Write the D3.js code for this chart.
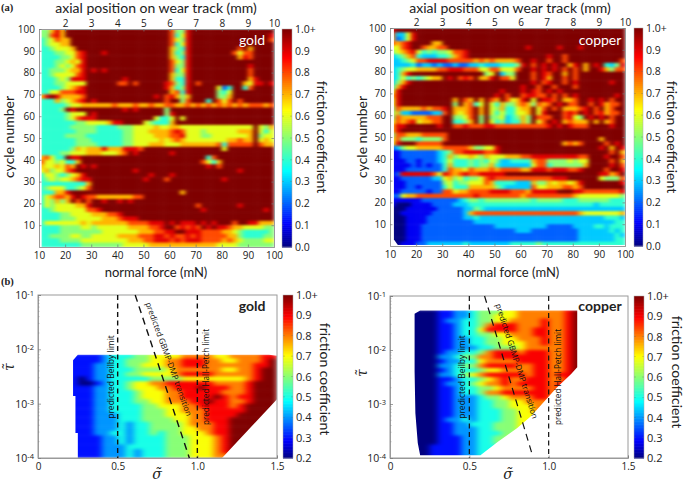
<!DOCTYPE html>
<html><head><meta charset="utf-8">
<script src="https://cdn.jsdelivr.net/npm/d3@7"></script>
<style>
html,body{margin:0;padding:0;background:#fff}
svg{display:block}
text{font-family:"Open Sans",sans-serif;fill:#222}
text.lab{font-family:Lato,"Open Sans",sans-serif}
</style></head><body>
<svg id="c" width="685" height="482"></svg>
<script>
// friction grids: each row top to bottom, digit = coefficient x 10, X = 1.0+
const goldWear = [
"55797 XXXXX XXXXX XXXXX XXXXX 8559X XXXXX XXXXX XXXXX",
"55897 XXXXX XXXXX XXXXX XXXXX 8469X XXXXX XXXXX XXXX9",
"45687 7XXXX XXXXX XXXXX XXXXX 8659X XXXXX XXXXX XXXX8",
"45667 7XXXX XXXXX XXXXX XXXXX 8469X XXXXX XXXXX XXXXX",
"44566 67XXX XXXXX XXXXX XXXXX 7549X XXXXX XXX8X 7XXXX",
"44455 6689X XX9XX XXXXX XXXXX 7459X XXXXX XX868 8XXXX",
"44445 5689X XXXXX XXXXX XXXXX 7549X XXXXX XXX79 8XXXX",
"44455 6769X XXXXX XXXXX XXXXX 8659X XXXXX XXXXX XXXXX",
"44456 5689X XXXXX XXXXX XXXXX 8559X XXXXX XXXXX 9XXXX",
"44555 6779X 9X9XX XXXXX XXXXX 8469X XXXXX XXXXX 8XXXX",
"44566 6689X XXXXX XXXXX XXXXX 7559X XXXXX XXXXX 8XXXX",
"44456 5999X XXXXX X9XXX XXXXX 7449X XXXXX XXXXX 79XXX",
"44455 6666X XXXXX 88X8X XXXX9 8549X 8XXXX XXXX7 699X9",
"44445 6789X XXXXX XXXXX XXXX9 7459X XXXX6 24XX4 8XXXX",
"44668 8899X XXXXX XXXXX XXXXX 7849X XXXX5 46XXX XXXXX",
"79X97 7778X XXXXX XXXXX XX9X8 9757X XXXX5 57XXX XXXXX",
"44475 6789X 9XXXX XXXXX XXXX8 XX58X XX4X8 68X8X XXXXX",
"44444 56677 77778 77787 78778 87787 87878 78787 88878",
"44445 X9XXX XXXXX X9X9X XXXX5 XXXXX XXXXX XXXXX XXXXX",
"44444 5666X 9XXXX XXXXX XXXX5 9XXXX XXXXX XXXXX XXXXX",
"44444 56899 9XXXX XXXXX XX644 6X6XX XXXXX XXXXX XXXXX",
"44444 44556 66679 9XXXX 65444 7XXXX XXXXX XXXXX XXXXX",
"44444 45555 54444 55566 66766 77666 66666 66666 6X657",
"44444 44555 54444 45566 67777 89866 65666 66677 7X646",
"44444 55554 44444 45566 66777 88966 65566 66666 7X566",
"44444 44555 44444 45566 66676 78766 66666 67787 7X676",
"44444 44555 54444 45566 67776 66777 77778 48888 8X877",
"44444 45767 77977 79998 XXXXX XXXXX XXXXX 6XXXX XXXXX",
"44445 56667 77666 78X9X XXXXX 9XXXX XXXXX XXXXX XXXXX",
"78644 X99XX XXXXX XXXXX XXXXX XXXXX XX48X XXXXX XXXXX",
"86656 447XX XXXXX XXXXX XXXXX XXXXX X8647 XXXXX XXXXX",
"76676 87X9X 9XXXX XXXXX XXXXX XXXXX XX9X8 XXXXX XXXXX",
"67566 89XXX XXXXX XXX9X XXXXX XXXXX XXXXX XXX9X XXXXX",
"46654 5679X XXXXX XXXXX X9XXX 9XXXX XXXXX XXXXX XXXXX",
"45656 67899 XXXXX XXXXX 9XXX8 XXXXX XXXXX 9XXXX XXXXX",
"44444 44447 XXXXX XXXXX XXXXX XXXXX XXXXX XXXXX XXXXX",
"45666 44568 XXXXX XXXXX XXXXX XXXXX XXXXX XXXXX XXXXX",
"44477 9XXXX XXXXX XXXXX XXXXX XX7XX XXXXX XXXXX XXXXX",
"46788 79X98 87777 77788 XXXXX XXXXX XXXXX XXXXX XXXXX",
"46575 7X8X8 XX9XX 9X9XX XXXXX XXXXX XXXXX XXXXX XXXXX",
"46566 66779 XXXXX XXXXX XXXXX XXXXX 8XXXX XXX9X XXXXX",
"44566 66668 89XXX XXXXX XXXXX XXXXX X9XXX XXXXX XXX9X",
"44445 56666 77788 9XXXX XXXXX XXXXX XXXXX XXXXX XXXXX",
"44445 55666 66777 8999X XXXXX XXXXX XXXXX XXXXX XXXXX",
"46666 66676 77777 77888 8999X 9X999 X9X9X XX8XX 99777",
"44445 55566 56666 66777 7889X X8989 8X9X9 98776 66655",
"44445 55555 55666 66667 77889 9XX99 98888 77654 44445",
"44555 56655 66666 77778 88998 98898 98888 87754 44455",
"44445 55566 66666 66777 88999 89899 98888 78765 55566",
"44444 44455 55555 56666 67777 77777 77776 66655 55555"];

const copperWear = [
"9XXXX XXXXX XXXXX XXXXX XXXXX XXXXX XXXXX XXXXX XXXXX",
"83369 XXXXX XXXXX XXXXX XXXXX XXXXX XXXXX XXXXX XXXXX",
"72369 XXXXX XXXXX XXXXX XXXXX XXXXX XXXXX XXXXX XXXXX",
"8789X XXX77 XXXXX XXXXX XXXXX XXXXX XXXXX XXXXX XXXXX",
"6689X X8778 8XXXX XXXXX XXXXX X9XXX XX9XX X9XXX XXXXX",
"56789 64545 56889 XXXXX XXXXX XXXXX XXXXX XXXXX XXXXX",
"34578 43334 45789 XXXXX XXXXX XXXXX 9XX8X XXXXX XXXXX",
"33456 88999 98888 87878 77778 XX9XX 8XX8X XXXXX XXXX8",
"33334 23323 22322 33433 34445 9X8X9 X9XX7 9X7X9 X4359",
"34566 77778 89998 88668 86668 XX9X9 X9X8X 8X7XX 97588",
"3479X XXXXX XXXXX XXX56 X355X XX8X9 8XX7X 8XXXX XXXXX",
"34645 45677 X9X89 8X779 X886X XX8X9 7XX8X 8XXXX XXXXX",
"3579X XXXXX XXXXX XXXXX XXXXX XX9X8 9XX8X 9XXXX XX9XX",
"479XX XXXXX XXXXX XXXXX XXXXX 9XX8X X8XXX 8XXXX XXXXX",
"69XXX XXXXX XXXXX XXXXX X9XXX 9X98X 9X9XX XXXXX XXXXX",
"79XXX XXXXX XXXXX XXXXX 9X8XX 89988 X8X8X 9XXXX XXX9X",
"69XXX XXXXX XX7X8 7X7X8 7X867 9X6X9 98X77 8XX9X 9X8XX",
"69XXX XXXXX XX5X7 846X6 47557 87587 8X9X8 8XX8X 9788X",
"58777 78788 9X777 8X7X6 57446 77X68 X8X77 789X8 X78XX",
"57332 22233 8X767 8X7X6 46446 67X69 XXX89 8X9X8 9788X",
"58777 77888 XX556 8X5X5 56345 75X88 8XX89 65X9X 9X8XX",
"68789 67788 XX445 7X5X6 45344 75X68 X9X78 777X7 X78XX",
"799XX XXXX9 XX889 88899 88888 88888 9X9X9 888XX XX9XX",
"79XXX XXXXX XXXXX XXXXX XXXXX XXXXX XXXXX XXXXX XXXXX",
"58877 78888 8XXXX XXXXX XXXXX XXXXX XXXXX XXXXX XXXXX",
"68555 45555 8XXXX XXXXX XXXXX XXXXX XXXXX XXXXX 7XXXX",
"69XXX 88888 XXXXX XXXXX XXXXX XXXXX XXX78 78XXX X8X9X",
"23566 77777 88888 75566 9XXXX XXXXX XXXXX XXXXX 9X7X9",
"11222 22223 45889 99988 9XXXX XXXXX XXXXX XXXXX XX8X7",
"11222 22223 47566 76576 66777 88999 99999 988XX X9XX8",
"11122 12223 46444 54546 53344 44788 55556 566XX XX8X7",
"11112 12122 47444 54557 43333 33688 45555 557XX XX9X8",
"11122 22222 48776 87778 78888 77999 89998 89XXX X8XX9",
"12999 99986 98789 88999 99XXX XXXXX XXXXX XXXXX 9978X",
"11222 22233 67564 55689 88888 88888 8999X XXXXX 65558",
"11122 22222 56455 66687 44443 33755 76776 79XXX XXXX9",
"11122 12222 46444 77777 54333 33866 77788 78XXX XXXXX",
"11222 22122 88677 88889 99988 87999 99XXX 99888 88889",
"22677 88888 88888 89888 88888 78888 88888 76666 66665",
"11111 12222 22234 55455 55555 55455 55544 45555 55444",
"10001 11122 22333 44444 44444 44444 44444 44443 44444",
"00011 11112 22223 35433 33333 33333 33333 33333 33333",
"00111 11122 22223 78888 88888 88888 88888 87666 66667",
"00011 11222 22223 34333 33333 33333 33333 33333 34443",
"00011 11222 22222 23333 33333 33333 33333 33333 33344",
"00011 12222 22222 22222 33333 33333 22222 33334 43444",
"00011 12222 22222 22222 22223 33222 22222 23333 33434",
"00011 12222 22222 22222 22222 22222 22222 23333 33343",
"00011 12222 22222 22222 22222 22222 22222 23333 33344",
"00111 22333 33334 33333 33344 44454 44444 44444 44444"];

const goldMap = [
"33333 33345 55667 77788 88778 88899",
"33333 33345 56667 78899 98877 8889X",
"33333 33445 56677 78899 98888 8899X",
"33333 33445 55666 67888 88877 889XX",
"33333 33445 56677 77899 99888 889XX",
"33333 23445 55556 66677 77777 789XX",
"33333 22345 56778 89999 99888 89XXX",
"33333 33445 56777 88999 X9998 89XXX",
"33333 33445 55677 78899 99988 89XXX",
"33333 33445 55677 78899 99X98 99XXX",
"33333 33445 55667 78889 9X998 89XXX",
"33333 33445 55566 77788 99998 9XXXX",
"33333 33445 55566 67788 89999 9XXXX",
"33333 33444 55566 67778 89999 XXXXX",
"33333 33444 55566 66778 8999X XXXXX",
"33333 33444 54556 66678 8899X XXXXX",
"33333 33444 54556 66677 8899X XXXXX",
"33333 33445 54556 56677 7899X XXXXX",
"33333 33344 54555 56667 7789X XXXXX",
"33333 33344 54555 56667 7789X XXXXX",
"33333 33344 45555 56667 7789X XXXXX",
"33333 33344 45455 56667 7789X XXXXX",
"33333 33344 45455 56667 7788X XXXXX"];

const copperMap = [
"22222 23344 56667 78888 889XX XXXXX",
"22222 23344 56677 78888 889XX XXXXX",
"22222 23445 56677 88889 889XX XXXXX",
"22222 23345 56899 98889 889XX XXXXX",
"22222 23345 57999 98899 889XX XXXXX",
"22222 23345 56677 88899 889XX XXXXX",
"22222 23344 55667 78889 889XX XXXXX",
"22222 23344 55667 77889 889XX XXXXX",
"22222 23344 45566 67888 889XX XXXXX",
"22222 23445 56899 98999 889XX XXXXX",
"22222 24456 68899 99999 889XX XXXXX",
"22222 23445 57888 89999 889XX XXXXX",
"22222 24456 68999 98899 889XX XXXXX",
"22222 23455 56778 88899 889XX XXXXX",
"22222 24456 78999 99899 899XX XXXXX",
"22222 23345 56789 88999 889XX XXXXX",
"22222 23445 67889 89999 899XX XXXXX",
"22222 23345 56678 88899 899XX XXXXX",
"22222 23345 56889 99999 899XX XXXXX",
"22222 23344 45667 88899 899XX XXXXX",
"22222 23344 45566 77888 899XX XXXXX",
"22222 23344 45566 77788 899XX XXXXX",
"22222 23344 45556 67788 89XXX XXXXX",
"22222 23344 45556 67778 89XXX XXXXX",
"22222 23445 45556 67778 89XXX XXXXX",
"22222 23344 55566 67788 89XXX XXXXX",
"22222 23344 45566 67788 89XXX XXXXX",
"22222 23344 45556 67777 89XXX XXXXX",
"22222 23334 45566 77777 89XXX XXXXX",
"22222 23334 45566 77777 89XXX XXXXX",
"22222 33334 45556 67777 89XXX XXXXX",
"22222 33334 45556 67777 89XXX XXXXX",
"22222 33334 45556 67777 89XXX XXXXX"];

// coverage outlines [value on x, value on y]
const goldWearEdge = [[11,0],[11,100],[100,100],[100,0]];
const copperWearEdge = [[13,0.5],[11.5,3],[11.5,100],[100,100],[100,0.5]];
const goldMapEdge = [[.22,-2.2],[.25,-2.1],[1.45,-2.1],[1.5,-2.12],[1.5,-2.92],[1.155,-4],[.25,-4],[.25,-3.54],[.235,-3.54],[.235,-2.86],[.22,-2.86]];
const copperMapEdge = [[.155,-1.33],[.19,-1.27],[1.18,-1.27],[1.18,-2.32],[1.14,-2.45],[1.05,-2.7],[.89,-3.22],[.8,-3.45],[.68,-3.7],[.57,-3.95],[.19,-3.95],[.175,-3.72],[.16,-3.17],[.155,-2.4]];

const forceTicks = [10,20,30,40,50,60,70,80,90,100];
const cycleTicks = [10,20,30,40,50,60,70,80,90,100];
const trackTicks = [2,3,4,5,6,7,8,9,10];
const wearBarTicks = [0,.1,.2,.3,.4,.5,.6,.7,.8,.9,1];
const mapBarTicks = [.2,.3,.4,.5,.6,.7,.8,.9,1];
const sigmaTicks = [0,.5,1,1.5];
const tauTicks = [1e-4,1e-3,1e-2,1e-1];
const tauMinor = [2e-4,3e-4,4e-4,5e-4,6e-4,7e-4,8e-4,9e-4,2e-3,3e-3,4e-3,5e-3,6e-3,7e-3,8e-3,9e-3,2e-2,3e-2,4e-2,5e-2,6e-2,7e-2,8e-2,9e-2];
const goldTransition = [[.61,1e-1],[.95,1e-4]];
const copperTransition = [[.596,1e-1],[.90,1.07e-4]];
const jetStops = ["#00007f","#0000ff","#00ffff","#7fff7f","#ffff00","#ff0000","#7f0000"];
const jetAt = [0,.11,.35,.49,.63,.87,1];

const svg = d3.select("#c");
const defs = svg.append("defs");
const jet = d3.scaleLinear().domain(jetAt).range(jetStops).interpolate(d3.interpolateRgb).clamp(true);
const soft = (id,s)=>defs.append("filter").attr("id",id).attr("x","-5%").attr("y","-5%").attr("width","110%").attr("height","110%")
  .attr("color-interpolation-filters","sRGB").append("feGaussianBlur").attr("stdDeviation",s);
soft("blurA","1.9 1.3"); soft("blurB","3.2 1.4"); soft("edge",.5);
const cellValue = c => c==="X"?1:+c/10;
let uid = 0;

function styleAxis(g){
  g.selectAll(".domain").attr("stroke","#9a9a9a").attr("stroke-width",1);
  g.selectAll(".tick line").attr("stroke","#777").attr("stroke-width",.7);
  g.selectAll("text").attr("fill","#222").attr("font-family",'"Open Sans",sans-serif').attr("font-size",10);
}

function heat(root, rows, edge, cellRect, color, x, y, blur){
  const id = "clip"+(uid++);
  defs.append("clipPath").attr("id",id).append("polygon")
    .attr("points",edge.map(p=>x(p[0])+","+y(p[1])).join(" "));
  const cells = rows.flatMap((r,j)=>Array.from(r.replace(/ /g,""),(c,i)=>({i,j,v:cellValue(c)})));
  root.append("g").attr("filter","url(#edge)").append("g").attr("clip-path",`url(#${id})`)
    .append("g").attr("filter",`url(#${blur})`)
    .selectAll("rect").data(cells).join("rect")
    .each(function(d){const b=cellRect(d); d3.select(this).attr("x",b[0]).attr("y",b[1]).attr("width",b[2]+.5).attr("height",b[3]+.5);})
    .attr("fill",d=>color(d.v));
}

function colorBar(x0,x1,y0,y1,lo,ticks,label,labelX,labelY,fs){
  const t = d3.scaleLinear().domain([lo,1]).range([y1,y0]);
  const steps = d3.range(0,110);
  svg.append("g").selectAll("rect").data(steps).join("rect")
    .attr("x",x0).attr("width",x1-x0)
    .attr("y",d=>y1-(d+1)*(y1-y0)/110).attr("height",(y1-y0)/110+.6)
    .attr("fill",d=>jet((d+.5)/110));
  svg.append("rect").attr("x",x0).attr("y",y0).attr("width",x1-x0).attr("height",y1-y0).attr("fill","none").attr("stroke","#aaa").attr("stroke-width",.5);
  const g = svg.append("g").attr("transform",`translate(${x1},0)`).call(d3.axisRight(t).tickValues(ticks).tickSize(0).tickPadding(3).tickFormat(d=>d===1?"1.0+":d3.format(".1f")(d)));
  g.select(".domain").remove();
  g.selectAll("text").attr("fill","#222").attr("font-family",'"Open Sans",sans-serif').attr("font-size",fs);
  svg.append("g").selectAll("line").data(ticks.slice(1,-1)).join("line")
    .attr("x1",x0).attr("x2",x0+2).attr("y1",t).attr("y2",t).attr("stroke","#666").attr("stroke-width",.5).attr("opacity",.6);
  svg.append("g").selectAll("line").data(ticks.slice(1,-1)).join("line")
    .attr("x1",x1-2).attr("x2",x1).attr("y1",t).attr("y2",t).attr("stroke","#666").attr("stroke-width",.5).attr("opacity",.6);
  svg.append("text").attr("class","lab").attr("transform",`translate(${labelX},${labelY}) rotate(90)`).attr("text-anchor","middle").attr("font-size",14).text(label);
}

function wearPanel(o){
  const x = d3.scaleLinear().domain([10,100]).range(o.xr);
  const y = d3.scaleLinear().domain([0,100]).range(o.yr);
  const top = d3.scaleLinear().domain([1,10]).range([x(10),x(100)]);
  const g = svg.append("g");
  const color = v=>jet(v);
  heat(g,o.rows,o.edge,d=>{
    const X0=x(10+2*d.i),X1=x(12+2*d.i),Y0=y(100-2*d.j),Y1=y(98-2*d.j);
    return [X0,Y0,X1-X0,Y1-Y0];
  },color,x,y,"blurA");
  g.append("g").attr("transform",`translate(0,${o.yr[0]})`).call(d3.axisBottom(x).tickValues(forceTicks).tickSize(-2.5).tickPadding(5)).call(styleAxis);
  g.append("g").attr("transform",`translate(0,${o.yr[1]})`).call(d3.axisTop(top).tickValues(trackTicks).tickSize(-2.5).tickPadding(2).tickFormat(d3.format("d"))).call(styleAxis);
  g.append("g").attr("transform",`translate(${o.xr[0]},0)`).call(d3.axisLeft(y).tickValues(cycleTicks).tickSize(-2.5).tickPadding(4)).call(styleAxis);
  g.append("g").attr("transform",`translate(${o.xr[1]},0)`).call(d3.axisRight(y).tickValues(cycleTicks).tickSize(-2.5).tickFormat("")).call(styleAxis);
  svg.append("text").attr("class","lab").attr("x",o.xt).attr("y",13).attr("text-anchor","middle").attr("font-size",14).text("axial position on wear track (mm)");
  svg.append("text").attr("class","lab").attr("x",o.xb).attr("y",277).attr("text-anchor","middle").attr("font-size",13).text("normal force (mN)");
  svg.append("text").attr("class","lab").attr("transform",`translate(${o.xl},137) rotate(-90)`).attr("text-anchor","middle").attr("font-size",14).text("cycle number");
  svg.append("text").attr("class","lab").attr("x",o.tag[0]).attr("y",o.tag[1]).attr("text-anchor","middle").attr("font-size",14).style("fill","#fff").text(o.name);
  colorBar(o.bar[0],o.bar[1],o.yr[1],o.yr[0],0,wearBarTicks,"friction coefficient",o.fl,137,10.5);
}

function symbol(sym,px,py,rot){
  svg.append("text").attr("transform",`translate(${px},${py}) rotate(${rot})`).attr("text-anchor","middle")
    .style("font-family",'"DejaVu Serif",serif').style("font-style","italic").attr("font-size",14).text(sym);
}

function mapPanel(o){
  const x = d3.scaleLinear().domain([0,1.5]).range(o.xr);
  const y = d3.scaleLog().domain([1e-4,1e-1]).range(o.yr);
  const logY = d3.scaleLinear().domain([-4,-1]).range(o.yr);
  const g = svg.append("g");
  const color = v=>jet((v-.2)/.8);
  heat(g,o.rows,o.edge,d=>{
    const X0=x(.05*d.i),X1=x(.05*(d.i+1)),Y0=logY(o.topLog-d.j/12),Y1=logY(o.topLog-(d.j+1)/12);
    return [X0,Y0,X1-X0,Y1-Y0];
  },color,x,logY,"blurB");
  g.append("rect").attr("x",o.xr[0]).attr("y",o.yr[1]).attr("width",o.xr[1]-o.xr[0]).attr("height",o.yr[0]-o.yr[1]).attr("fill","none").attr("stroke","#9a9a9a");
  g.append("g").attr("transform",`translate(0,${o.yr[0]})`).call(d3.axisBottom(x).tickValues(sigmaTicks).tickSize(-2.5).tickPadding(5).tickFormat(d=>d===0?"0":d3.format(".1f")(d))).call(styleAxis);
  const ay = g.append("g").attr("transform",`translate(${o.xr[0]},0)`).call(d3.axisLeft(y).tickValues(tauTicks).tickSize(-3).tickPadding(4).tickFormat("")).call(styleAxis);
  ay.selectAll(".tick text").each(function(d){
    const t=d3.select(this).attr("font-size",10.5);
    t.append("tspan").text("10");
    t.append("tspan").attr("dy","-.4em").attr("font-size",7.5).text(Math.round(Math.log10(d)));
  });
  g.append("g").selectAll("line").data(tauMinor).join("line").attr("x1",o.xr[0]).attr("x2",o.xr[0]+1.5).attr("y1",y).attr("y2",y).attr("stroke","#888").attr("stroke-width",.5);
  g.append("g").selectAll("line").data([.5,1]).join("line")
    .attr("x1",d=>x(d)).attr("x2",d=>x(d)).attr("y1",o.yr[1]).attr("y2",o.yr[0])
    .attr("stroke","#111").attr("stroke-width",o.dash).attr("stroke-dasharray","5 3.5");
  g.append("path").datum(o.trans).attr("fill","none").attr("stroke","#111").attr("stroke-width",o.dash).attr("stroke-dasharray","7 5")
    .attr("d",d3.line().x(d=>x(d[0])).y(d=>y(d[1])));
  const note=(t,px,py,r,fs)=>g.append("text").attr("transform",`translate(${px},${py}) rotate(${r})`).attr("text-anchor","middle").attr("font-size",fs).style("fill","#111").text(t);
  note("predicted Beilby limit",o.beilby,377,-90,8.5);
  note("predicted Hall-Petch limit",o.hall,377,-90,8.2);
  note("predicted GBMP-DMP transition",o.gbmp[0],o.gbmp[1],o.gbmp[2],8.1);
  svg.append("text").attr("class","lab").attr("x",o.tag[0]).attr("y",o.tag[1]).attr("text-anchor","middle").attr("font-size",14).attr("font-weight",700).text(o.name);
  symbol("σ\u0303",o.sl[0],o.sl[1],0);
  symbol("τ\u0303",o.tl[0],o.tl[1],-90);
  colorBar(o.bar[0],o.bar[1],o.yr[1],o.yr[0],.2,mapBarTicks,"friction coefficient",o.fl[0],o.fl[1],11);
}

wearPanel({rows:goldWear,edge:goldWearEdge,name:"gold",xr:[39,274],yr:[247,29],xt:156,xb:156,xl:14,tag:[252,45],bar:[282,292],fl:317});
wearPanel({rows:copperWear,edge:copperWearEdge,name:"copper",xr:[390,625],yr:[246,28],xt:510,xb:508,xl:367,tag:[600,45],bar:[634,643],fl:667});
mapPanel({rows:goldMap,topLog:-1-13/12,edge:goldMapEdge,name:"gold",xr:[38,277],yr:[458,295],trans:goldTransition,dash:1.4,beilby:114,hall:209,gbmp:[166,360,70],tag:[252,311],sl:[157,479],tl:[14,367],bar:[283,293],fl:[320,379]});
mapPanel({rows:copperMap,topLog:-1-3/12,edge:copperMapEdge,name:"copper",xr:[390,628],yr:[458,296],trans:copperTransition,dash:1.2,beilby:465,hall:561,gbmp:[514,362,72],tag:[600,311],sl:[508,479],tl:[367,373],bar:[634,644],fl:[672,372]});

const tag=(t,yy)=>svg.append("text").attr("x",1).attr("y",yy).style("font-family",'"Liberation Serif",serif').attr("font-weight",700).attr("font-size",10.5).text(t);
tag("(a)",11); tag("(b)",285);
</script></body></html>
